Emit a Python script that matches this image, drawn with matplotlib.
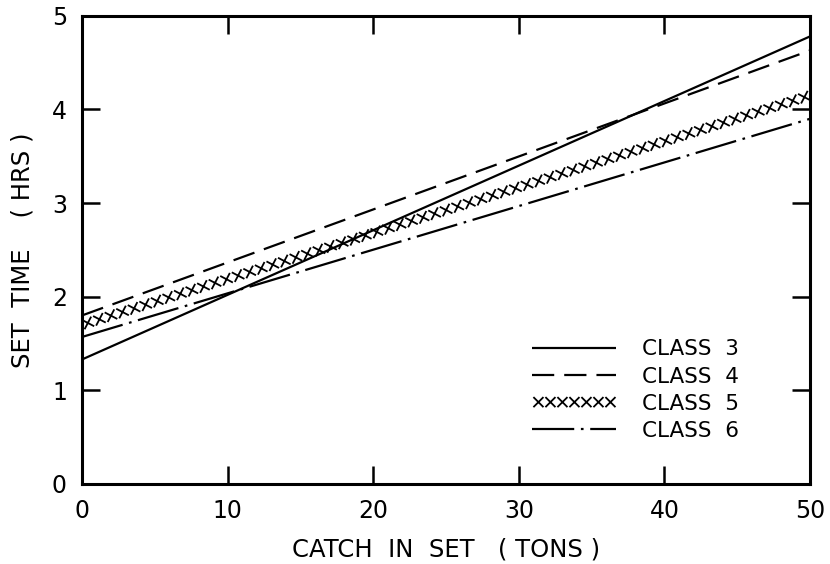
import matplotlib.pyplot as plt
from matplotlib import patheffects as pe

# catch in set (tons) at the ends of each fitted line
catch = [0, 50]

# set time (hrs) at catch = 0 and catch = 50
class3 = [1.33, 4.78]
class4 = [1.80, 4.63]
class5 = [1.70, 4.15]
class6 = [1.57, 3.90]

labels = ["CLASS  3", "CLASS  4", "CLASS  5", "CLASS  6"]
x_ticks = [0, 10, 20, 30, 40, 50]
y_ticks = [0, 1, 2, 3, 4, 5]

plt.rcParams["font.family"] = "DejaVu Sans"

fig = plt.figure(figsize=(8.3, 5.64), dpi=100)
ax = fig.add_axes((0.099, 0.142, 0.877, 0.830))

lw = 1.6
ax.plot(catch, class3, color="black", lw=lw, solid_capstyle="butt", label=labels[0])
ax.plot(catch, class4, color="black", lw=lw, linestyle=(0, (10, 4.5)),
        dash_capstyle="butt", label=labels[1])

# crosses drawn along the line with four ticked strokes
cross = [pe.TickedStroke(spacing=8.6, angle=a, length=0.52, linewidth=1.3)
         for a in (45, 135, -45, -135)]
ax.plot(catch, class5, color="black", lw=lw, path_effects=cross, label=labels[2])

ax.plot(catch, class6, color="black", lw=lw, linestyle=(0, (19, 3, 1.2, 3)),
        dash_capstyle="butt", label=labels[3])

ax.set_xlim(0, 50)
ax.set_ylim(0, 5)
ax.set_xticks(x_ticks)
ax.set_yticks(y_ticks)

for side in ax.spines.values():
    side.set_linewidth(2.2)

ax.tick_params(direction="in", length=13, width=1.8, top=True, right=True,
               labelsize=17, pad=11)

ax.set_xlabel("CATCH  IN  SET   ( TONS )", fontsize=17.5, labelpad=10)
ax.set_ylabel("SET  TIME    ( HRS )", fontsize=17.5, labelpad=12)

ax.legend(loc="upper left", bbox_to_anchor=(0.592, 0.35), frameon=False,
          fontsize=15.5, handlelength=3.9, handletextpad=1.2, labelspacing=0.33)

fig.savefig("out.png", dpi=100)
